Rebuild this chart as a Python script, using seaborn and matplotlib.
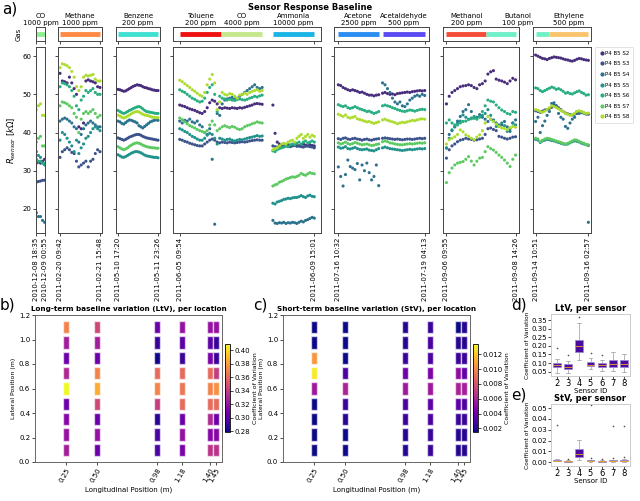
import numpy as np
import pandas as pd
import matplotlib
matplotlib.use('Agg')
import matplotlib.pyplot as plt
import matplotlib.dates as mdates
from matplotlib.lines import Line2D
import seaborn as sns

# %% dados
sensors = ['P4 B5 S2', 'P4 B5 S3', 'P4 B5 S4', 'P4 B5 S5', 'P4 B5 S6', 'P4 B5 S7', 'P4 B5 S8']

# inicio / fim de cada painel (ticks do eixo x)
panel_dates = [('2010-12-08 18:35', '2010-12-09 00:55'),
               ('2011-02-20 09:42', '2011-02-21 15:48'),
               ('2011-05-10 17:20', '2011-05-11 23:26'),
               ('2011-06-05 09:54', '2011-06-09 15:01'),
               ('2011-07-16 10:32', '2011-07-19 04:13'),
               ('2011-09-06 09:55', '2011-09-08 14:26'),
               ('2011-09-14 10:51', '2011-09-16 02:57')]

# gases: painel, nome, concentracao, cor, inicio, fim
gas_panel = [0, 1, 2, 3, 3, 3, 4, 4, 5, 5, 6, 6]
gas_name = ['CO', 'Methane', 'Benzene', 'Toluene', 'CO', 'Ammonia', 'Acetone', 'Acetaldehyde',
            'Methanol', 'Butanol', 'Butanol', 'Ethylene']
gas_conc = ['1000 ppm', '1000 ppm', '200 ppm', '200 ppm', '4000 ppm', '10000 ppm', '2500 ppm', '500 ppm',
            '200 ppm', '100 ppm', '100 ppm', '500 ppm']
gas_color = ['#90ee90', '#ff8a45', '#40e0d0', '#ee1111', '#c5e88c', '#1ab3e6', '#2b8cf2', '#5b4bf2',
             '#f54c38', '#70f0c8', '#70f0c8', '#f9c46b']
gas_start = ['2010-12-08 18:35', '2011-02-20 09:42', '2011-05-10 17:20', '2011-06-05 09:54',
             '2011-06-06 17:00', '2011-06-08 07:55', '2011-07-16 10:32', '2011-07-17 20:10',
             '2011-09-06 09:55', '2011-09-07 16:10', '2011-09-14 10:51', '2011-09-14 21:00']
gas_end = ['2010-12-09 00:55', '2011-02-21 15:48', '2011-05-11 23:26', '2011-06-06 17:00',
           '2011-06-07 23:50', '2011-06-09 15:01', '2011-07-17 17:15', '2011-07-19 04:13',
           '2011-09-07 16:10', '2011-09-08 14:26', '2011-09-14 21:00', '2011-09-16 02:57']

# resistencia (kOhm) por bloco de medicao, uma lista por sensor S2..S8
co_t = ('2010-12-08 18:35', '2010-12-09 00:55')
co_R = [[32.0, 32.3, 32.0, 32.5, 33.0],
        [27.0, 27.2, 27.3, 27.5, 27.5],
        [19.0, 18.0, 18.0, 17.0, 16.5],
        [35.0, 34.0, 33.5, 32.0, 31.5],
        [33.0, 32.5, 32.5, 32.0, 32.0],
        [37.5, 38.5, 39.0, 36.5, 36.5],
        [46.0, 47.0, 47.5, 44.5, 44.5]]

methane_t = ('2011-02-20 09:42', '2011-02-21 15:48')
methane_R = [[55.5, 53.5, 53.3, 53.0, 54.5, 53.0, 51.5, 50.0, 41.5, 41.0, 42.5, 53.5, 53.8, 53.5, 53.3, 53.0, 52.0, 51.8],
             [33.5, 35.0, 35.5, 36.0, 35.5, 34.8, 34.5, 32.5, 31.0, 31.5, 32.0, 32.5, 31.0, 32.5, 33.0, 34.5, 35.5, 35.0],
             [43.0, 43.5, 43.8, 43.5, 43.0, 42.5, 41.5, 41.0, 37.5, 39.5, 41.0, 42.0, 42.5, 43.0, 42.5, 42.0, 41.5, 41.5],
             [38.0, 40.0, 39.5, 38.5, 37.5, 36.5, 35.0, 38.0, 34.5, 36.0, 37.0, 38.5, 39.0, 40.0, 41.0, 41.5, 41.0, 40.5],
             [52.0, 53.0, 52.8, 52.5, 52.0, 51.0, 49.5, 47.0, 46.0, 48.5, 49.5, 51.0, 50.5, 51.0, 51.5, 50.5, 50.0, 50.0],
             [47.0, 48.0, 47.8, 47.5, 47.0, 46.5, 45.0, 44.0, 40.0, 43.5, 45.0, 45.5, 45.0, 45.5, 46.0, 45.0, 44.0, 44.5],
             [57.0, 58.0, 57.8, 57.5, 57.0, 56.0, 54.5, 52.0, 51.0, 52.0, 54.5, 55.0, 54.8, 55.0, 55.2, 54.0, 53.5, 53.5]]

benzene_t = ('2011-05-10 17:20', '2011-05-11 23:26')
benzene_R = [[51.3, 51.2, 51.0, 50.8, 50.9, 51.2, 51.5, 51.8, 52.1, 52.3, 52.5, 52.4, 52.3, 52.0, 51.8, 51.7, 51.5, 51.4, 51.2, 51.1, 51.0, 51.0],
             [38.6, 38.4, 38.2, 38.0, 38.2, 38.5, 38.8, 39.0, 39.2, 39.4, 39.5, 39.5, 39.3, 39.0, 38.8, 38.6, 38.5, 38.4, 38.3, 38.2, 38.1, 38.0],
             [43.0, 42.8, 42.4, 42.2, 42.6, 43.0, 43.3, 43.2, 43.0, 42.8, 42.5, 41.8, 41.5, 41.2, 41.6, 42.0, 42.4, 42.8, 43.0, 43.2, 43.3, 43.2],
             [34.2, 33.9, 33.6, 33.5, 33.7, 34.0, 34.3, 34.6, 34.8, 35.0, 35.0, 34.9, 34.7, 34.4, 34.1, 33.9, 33.8, 33.7, 33.6, 33.5, 33.5, 33.4],
             [45.8, 45.5, 45.2, 45.0, 45.2, 45.5, 45.8, 46.0, 46.3, 46.5, 46.7, 46.8, 46.6, 46.2, 45.8, 45.5, 45.4, 45.3, 45.2, 45.1, 45.0, 45.0],
             [36.3, 36.0, 35.7, 35.5, 35.7, 36.0, 36.4, 36.7, 37.0, 37.2, 37.3, 37.2, 37.0, 36.7, 36.5, 36.3, 36.2, 36.1, 36.0, 36.0, 35.9, 35.9],
             [44.6, 44.3, 44.0, 43.8, 44.0, 44.3, 44.6, 44.9, 45.2, 45.4, 45.5, 45.4, 45.1, 44.8, 44.6, 44.5, 44.4, 44.2, 44.0, 44.0, 43.9, 43.9]]

toluene_co_t = ('2011-06-05 09:54', '2011-06-07 23:50')
toluene_co_R = [[47.2, 47.0, 46.8, 46.5, 46.2, 46.0, 45.8, 45.5, 45.2, 45.0, 45.5, 46.5, 47.8, 48.5, 48.2, 47.5, 46.5,
                 46.3, 46.5, 46.4, 46.3, 46.5, 46.4, 46.3, 46.5, 46.4, 46.6, 46.8, 47.0, 47.2, 47.5, 47.6, 47.5, 47.4],
                [38.2, 38.0, 37.7, 37.5, 37.2, 37.0, 36.8, 36.6, 36.5, 36.5, 37.0, 37.5, 38.0, 38.3, 38.0, 37.5, 37.3,
                 37.5, 37.4, 37.3, 37.5, 37.4, 37.3, 37.4, 37.5, 37.6, 37.5, 37.6, 37.8, 37.9, 38.0, 38.1, 38.0, 38.0],
                [43.0, 42.5, 43.2, 43.0, 43.5, 42.8, 42.5, 43.0, 42.0, 41.5, 40.0, 39.5, 41.0, 33.0, 16.0, 45.0, 44.5,
                 47.5, 48.5, 48.8, 49.0, 49.2, 48.8, 49.0, 49.5, 50.0, 50.5, 51.0, 51.5, 52.0, 52.5, 51.8, 51.5, 51.8],
                [41.0, 40.7, 40.3, 40.0, 39.5, 39.0, 38.7, 38.3, 38.0, 38.0, 38.5, 39.3, 39.8, 39.5, 38.5, 37.0, 38.5,
                 38.3, 38.0, 38.2, 38.3, 38.0, 37.8, 38.0, 38.2, 38.1, 38.3, 38.5, 38.7, 38.8, 39.0, 39.2, 39.0, 39.1],
                [51.2, 50.8, 50.5, 50.0, 49.5, 49.0, 48.7, 48.3, 48.0, 48.2, 49.0, 50.5, 51.8, 52.5, 50.0, 45.5, 49.5,
                 49.0, 48.8, 48.5, 48.7, 48.5, 48.4, 48.6, 48.8, 48.6, 48.5, 48.7, 49.0, 49.2, 49.5, 49.3, 49.6, 49.8],
                [43.8, 43.4, 42.8, 42.3, 41.8, 41.5, 41.2, 40.8, 40.5, 40.3, 40.0, 40.5, 42.0, 43.0, 42.0, 40.5, 41.0,
                 41.5, 41.8, 41.5, 41.3, 41.6, 41.4, 41.0, 40.8, 41.0, 41.5, 41.8, 42.0, 42.3, 42.5, 42.8, 42.6, 42.5],
                [53.7, 53.3, 52.8, 52.3, 51.8, 51.2, 50.8, 50.3, 49.8, 49.5, 50.5, 52.5, 54.0, 55.2, 53.0, 46.0, 48.0,
                 50.5, 50.0, 49.8, 50.2, 50.0, 49.5, 49.0, 49.8, 50.0, 50.3, 50.0, 50.5, 50.8, 51.0, 51.2, 50.8, 51.0]]

ammonia_t = ('2011-06-08 07:55', '2011-06-09 15:01')
ammonia_R = [[47.2, 39.8, 37.5, 37.0, 36.8, 36.5, 36.6, 36.8, 36.5, 36.7, 36.9, 36.6, 36.5, 36.8, 37.0, 36.7, 36.5, 36.8, 36.6, 36.5],
             [36.5, 36.3, 36.2, 36.0, 36.2, 36.3, 36.5, 36.4, 36.3, 36.5, 36.6, 36.4, 36.5, 36.3, 36.2, 36.4, 36.5, 36.3, 36.2, 36.0],
             [17.0, 16.3, 16.2, 16.4, 16.3, 16.5, 16.2, 16.4, 16.3, 16.5, 16.4, 16.2, 16.5, 16.8, 16.6, 17.0, 17.2, 17.5, 17.8, 17.6],
             [21.5, 21.3, 21.8, 22.0, 22.2, 22.5, 22.6, 22.8, 22.7, 22.9, 23.0, 23.0, 23.2, 23.5, 23.2, 23.0, 23.4, 23.6, 23.3, 23.2],
             [35.2, 35.0, 35.5, 35.8, 36.0, 36.2, 36.5, 36.3, 36.8, 37.0, 36.8, 37.2, 37.5, 37.0, 37.5, 37.8, 37.3, 37.5, 37.8, 37.5],
             [26.0, 26.3, 26.5, 27.0, 27.2, 27.5, 27.8, 28.0, 28.2, 28.4, 28.3, 28.5, 28.8, 29.3, 29.0, 28.8, 29.2, 29.5, 29.3, 29.2],
             [35.5, 35.8, 36.0, 36.5, 37.0, 37.2, 37.0, 37.5, 37.8, 38.0, 37.5, 38.5, 39.0, 39.5, 38.5, 39.0, 39.5, 38.8, 39.3, 39.0]]

acetone_t = ('2011-07-16 10:32', '2011-07-17 17:15')
acetone_R = [[52.5, 52.3, 51.8, 51.5, 51.2, 51.0, 51.2, 51.0, 50.8, 50.5, 50.6, 50.3, 50.0, 49.8, 49.8, 49.6, 49.8, 49.9],
             [38.4, 38.2, 38.5, 38.6, 38.3, 38.2, 38.4, 38.5, 38.3, 38.2, 38.0, 38.2, 38.3, 38.1, 38.0, 38.2, 38.3, 38.4],
             [31.0, 28.5, 26.0, 29.0, 32.8, 31.1, 30.7, 30.3, 31.9, 27.6, 31.5, 30.0, 32.0, 29.5, 27.6, 28.5, 31.5, 26.1],
             [36.2, 35.9, 36.0, 36.3, 35.8, 35.7, 35.9, 36.1, 35.8, 35.6, 35.5, 35.6, 35.7, 35.4, 35.3, 35.2, 35.5, 35.8],
             [47.3, 47.0, 46.8, 47.0, 46.5, 46.3, 46.5, 46.8, 46.5, 46.2, 46.0, 45.8, 45.5, 45.6, 45.3, 45.0, 45.2, 45.5],
             [37.3, 37.0, 37.2, 37.5, 37.1, 36.9, 37.1, 37.4, 37.2, 37.0, 36.8, 36.9, 37.0, 36.8, 36.6, 36.7, 36.9, 37.0],
             [44.8, 44.5, 44.2, 44.6, 44.0, 43.8, 44.0, 44.2, 43.6, 43.4, 43.2, 43.0, 42.8, 42.9, 42.6, 42.4, 42.6, 42.8]]

acetaldehyde_t = ('2011-07-17 20:10', '2011-07-19 04:13')
acetaldehyde_R = [[50.3, 50.5, 50.2, 50.0, 50.1, 49.9, 50.2, 50.3, 50.4, 50.5, 50.6, 50.5, 50.7, 50.8, 50.9, 51.0, 50.9, 51.0],
                  [38.5, 38.6, 38.5, 38.4, 38.3, 38.2, 38.3, 38.2, 38.1, 38.2, 38.3, 38.3, 38.2, 38.3, 38.4, 38.5, 38.4, 38.5],
                  [53.0, 52.5, 51.5, 50.5, 49.0, 48.0, 47.5, 48.0, 47.0, 46.8, 47.5, 48.5, 49.0, 49.5, 49.8, 49.5, 50.0, 49.7],
                  [36.0, 36.2, 36.0, 35.8, 35.7, 35.6, 35.5, 35.4, 35.3, 35.4, 35.5, 35.6, 35.5, 35.6, 35.7, 35.8, 35.7, 35.8],
                  [47.0, 47.2, 47.0, 46.8, 46.5, 46.3, 46.0, 45.8, 45.6, 45.5, 45.7, 45.9, 45.8, 45.6, 45.8, 46.0, 46.1, 46.0],
                  [37.6, 37.8, 37.6, 37.3, 37.2, 37.0, 36.9, 36.8, 36.8, 36.9, 37.0, 37.1, 37.0, 37.1, 37.2, 37.3, 37.2, 37.3],
                  [43.3, 43.5, 43.2, 43.0, 42.8, 42.6, 42.3, 42.5, 42.7, 42.6, 42.8, 43.0, 43.2, 43.1, 43.3, 43.5, 43.6, 43.5]]

methanol_butanol_t = ('2011-09-06 09:55', '2011-09-08 14:26')
methanol_butanol_R = [[47.5, 49.5, 50.5, 51.0, 51.5, 52.0, 52.2, 52.3, 52.5, 52.3, 51.8, 51.5, 52.5, 52.8, 53.5, 55.3, 55.9, 56.2, 54.0, 53.7, 53.5, 53.2, 52.8, 53.5, 54.2, 53.8],
                      [33.3, 35.5, 36.5, 37.0, 37.6, 38.0, 38.2, 38.5, 38.3, 38.2, 38.0, 38.1, 38.3, 38.5, 39.5, 41.0, 41.2, 40.8, 40.5, 39.0, 38.8, 38.5, 38.3, 38.5, 38.8, 38.9],
                      [36.0, 39.5, 40.5, 41.5, 43.0, 44.2, 45.5, 46.0, 47.3, 45.5, 43.8, 44.0, 44.7, 44.0, 43.5, 42.9, 43.5, 43.3, 42.5, 41.6, 42.0, 42.9, 41.5, 40.3, 42.5, 43.3],
                      [35.9, 38.5, 40.7, 41.5, 42.5, 43.0, 44.6, 44.0, 43.5, 43.8, 44.2, 43.9, 44.2, 44.5, 45.0, 46.0, 44.5, 43.0, 41.6, 42.0, 42.5, 41.8, 40.3, 41.0, 42.5, 42.0],
                      [42.5, 43.3, 42.5, 42.0, 42.0, 42.5, 42.9, 43.0, 43.4, 43.6, 43.8, 43.5, 44.0, 45.5, 47.0, 48.5, 48.2, 48.0, 47.2, 46.5, 45.9, 45.5, 45.0, 44.8, 45.5, 45.3],
                      [26.9, 29.5, 30.7, 31.5, 32.0, 32.2, 32.4, 33.0, 33.7, 32.5, 31.5, 32.5, 33.3, 33.5, 35.0, 36.3, 35.8, 35.4, 34.8, 34.1, 33.5, 32.8, 32.0, 31.1, 33.0, 34.1],
                      [37.0, 38.1, 38.5, 38.9, 39.5, 40.7, 40.2, 39.4, 39.0, 38.5, 38.1, 38.8, 39.4, 40.5, 42.5, 44.2, 43.5, 42.9, 42.2, 41.6, 41.2, 41.1, 40.8, 41.3, 41.6, 41.4]]

butanol_ethylene_t = ('2011-09-14 10:51', '2011-09-16 02:57')
butanol_ethylene_R = [[60.3, 60.0, 59.7, 59.4, 59.3, 59.1, 59.4, 59.6, 59.8, 59.7, 59.6, 59.5, 59.3, 59.1, 59.0, 58.8, 58.7, 58.9, 59.2, 59.4, 59.3, 59.1, 59.0, 58.9],
                      [45.7, 45.5, 45.3, 45.6, 45.9, 46.0, 46.3, 46.6, 47.2, 47.0, 46.5, 46.0, 45.5, 45.1, 44.9, 44.7, 44.6, 44.8, 45.0, 45.3, 45.4, 45.1, 45.0, 44.8],
                      [42.9, 44.0, 40.0, 41.8, 43.0, 44.5, 45.5, 47.6, 47.8, 47.0, 45.0, 44.0, 43.5, 41.6, 41.1, 42.5, 43.5, 44.0, 45.5, 45.0, 45.2, 45.1, 44.8, 16.5],
                      [38.2, 38.0, 37.4, 37.8, 38.0, 38.2, 38.1, 37.9, 37.8, 37.6, 37.4, 37.2, 37.0, 36.9, 37.0, 37.3, 37.6, 37.8, 37.7, 37.5, 37.2, 37.0, 36.8, 36.6],
                      [51.7, 51.5, 51.0, 50.7, 51.0, 51.3, 51.6, 51.9, 51.7, 51.3, 51.5, 51.2, 50.8, 50.3, 50.5, 50.2, 50.1, 50.4, 50.7, 50.9, 50.5, 50.2, 49.8, 49.9],
                      [38.5, 38.3, 37.6, 38.0, 38.3, 38.5, 38.4, 38.2, 38.0, 37.8, 37.6, 37.4, 37.2, 37.0, 37.2, 37.5, 37.8, 38.1, 38.0, 37.7, 37.4, 37.2, 36.9, 36.8],
                      [46.0, 45.8, 45.5, 45.3, 45.6, 46.0, 46.5, 47.0, 46.8, 46.5, 46.2, 45.8, 45.5, 45.0, 44.8, 44.5, 44.7, 45.0, 45.5, 45.7, 45.5, 45.2, 45.0, 45.1]]

blocks = [(0, co_t, co_R), (1, methane_t, methane_R), (2, benzene_t, benzene_R),
          (3, toluene_co_t, toluene_co_R), (3, ammonia_t, ammonia_R),
          (4, acetone_t, acetone_R), (4, acetaldehyde_t, acetaldehyde_R),
          (5, methanol_butanol_t, methanol_butanol_R), (6, butanol_ethylene_t, butanol_ethylene_R)]

# variacao por localizacao (linhas de cima para baixo)
long_pos = [0.25, 0.50, 0.98, 1.18, 1.40, 1.45]
lat_pos = [1.1, 0.975, 0.85, 0.725, 0.6, 0.475, 0.35, 0.225, 0.1]
ltv_grid = [[0.370, 0.345, 0.305, 0.320, 0.320, 0.320],
            [0.325, 0.325, 0.290, 0.300, 0.300, 0.290],
            [0.305, 0.305, 0.280, 0.290, 0.310, 0.290],
            [0.330, 0.370, 0.360, 0.360, 0.360, 0.340],
            [0.410, 0.385, 0.370, 0.365, 0.370, 0.375],
            [0.305, 0.345, 0.340, 0.360, 0.360, 0.360],
            [0.315, 0.305, 0.285, 0.305, 0.330, 0.305],
            [0.320, 0.320, 0.295, 0.320, 0.315, 0.315],
            [0.325, 0.305, 0.295, 0.310, 0.335, 0.335]]
stv_grid = [[0.0015, 0.0015, 0.0020, 0.0025, 0.0015, 0.0020],
            [0.0015, 0.0015, 0.0020, 0.0030, 0.0020, 0.0020],
            [0.0105, 0.0015, 0.0025, 0.0030, 0.0025, 0.0025],
            [0.0130, 0.0030, 0.0040, 0.0045, 0.0050, 0.0035],
            [0.0055, 0.0060, 0.0055, 0.0055, 0.0060, 0.0058],
            [0.0015, 0.0025, 0.0030, 0.0035, 0.0035, 0.0030],
            [0.0015, 0.0020, 0.0025, 0.0030, 0.0025, 0.0025],
            [0.0015, 0.0015, 0.0020, 0.0025, 0.0020, 0.0020],
            [0.0015, 0.0015, 0.0020, 0.0025, 0.0020, 0.0020]]

# variacao por sensor (amostras)
sensor_ids = [2, 3, 4, 5, 6, 7, 8]
ltv_sensor = [[0.04, 0.06, 0.072, 0.078, 0.082, 0.085, 0.088, 0.095, 0.1, 0.11, 0.125, 0.19],
              [0.04, 0.055, 0.063, 0.068, 0.074, 0.078, 0.08, 0.086, 0.092, 0.1, 0.11, 0.145],
              [0.12, 0.14, 0.152, 0.162, 0.178, 0.192, 0.2, 0.212, 0.225, 0.235, 0.27, 0.33, 0.37],
              [0.065, 0.072, 0.078, 0.082, 0.086, 0.09, 0.093, 0.097, 0.102, 0.108, 0.13, 0.16],
              [0.055, 0.065, 0.072, 0.077, 0.082, 0.086, 0.09, 0.094, 0.099, 0.105, 0.12, 0.145],
              [0.055, 0.065, 0.072, 0.078, 0.085, 0.092, 0.098, 0.105, 0.115, 0.125, 0.14, 0.165],
              [0.05, 0.062, 0.072, 0.078, 0.086, 0.093, 0.098, 0.105, 0.114, 0.122, 0.135, 0.155]]
stv_sensor = [[0.0008, 0.001, 0.0012, 0.0013, 0.0014, 0.0015, 0.0016, 0.0018, 0.002, 0.0022, 0.0025, 0.0035, 0.034],
              [0.0003, 0.0005, 0.0006, 0.0007, 0.0008, 0.0009, 0.001, 0.0011, 0.0012, 0.0014, 0.0017, 0.002, 0.003],
              [0.002, 0.003, 0.004, 0.005, 0.0058, 0.0065, 0.007, 0.0078, 0.009, 0.0105, 0.013, 0.016, 0.02, 0.021],
              [0.0005, 0.0008, 0.001, 0.0011, 0.0012, 0.0013, 0.0015, 0.0016, 0.0018, 0.002, 0.0025, 0.004, 0.053],
              [0.0003, 0.0005, 0.0006, 0.0007, 0.0008, 0.0009, 0.001, 0.0011, 0.0012, 0.0014, 0.0018, 0.0022, 0.003],
              [0.0005, 0.0008, 0.001, 0.0011, 0.0012, 0.0013, 0.0015, 0.0016, 0.0018, 0.002, 0.0025, 0.004, 0.033],
              [0.0005, 0.0008, 0.001, 0.0011, 0.0012, 0.0013, 0.0015, 0.0016, 0.0018, 0.002, 0.003, 0.005, 0.033]]

# %% figura
W, H = 640, 501
fig = plt.figure(figsize=(W / 100, H / 100), dpi=100)
FS = 5


def px_axes(x0, y0, x1, y1):
    return fig.add_axes([x0 / W, 1 - y1 / H, (x1 - x0) / W, (y1 - y0) / H])


def style_spines(ax, color='#444444', lw=0.7):
    for sp in ax.spines.values():
        sp.set_color(color)
        sp.set_linewidth(lw)


pal = sns.color_palette('viridis', len(sensors))
panel_px = [(36, 45), (58, 102), (116, 160), (173, 321), (334, 429), (443, 519), (533, 591)]

main_axes, strip_axes = [], []
for i, (x0, x1) in enumerate(panel_px):
    t0, t1 = [mdates.date2num(pd.Timestamp(d)) for d in panel_dates[i]]
    span = t1 - t0
    lim = (t0 - 0.05 * span, t1 + 0.05 * span)

    ax = px_axes(x0, 47, x1, 233)
    frames = []
    for p, (b0, b1), R in blocks:
        if p != i:
            continue
        for s, vals in zip(sensors, R):
            frames.append(pd.DataFrame({'time': pd.date_range(b0, b1, periods=len(vals)),
                                        'R': vals, 'sensor': s}))
    df = pd.concat(frames, ignore_index=True)
    sns.scatterplot(data=df, x='time', y='R', hue='sensor', hue_order=sensors, palette=pal,
                    s=5, linewidth=0, legend=False, ax=ax)
    ax.set_xlim(lim)
    ax.set_ylim(13.7, 62.4)
    ax.set_yticks([20, 30, 40, 50, 60])
    ax.set_xticks([t0, t1])
    ax.set_xticklabels(list(panel_dates[i]), rotation=90, fontsize=4.5)
    ax.tick_params(length=2, width=0.5, labelsize=FS, pad=1.5)
    ax.set_xlabel('')
    if i == 0:
        ax.set_ylabel(r'$R_{sensor}\ [k\Omega]$', fontsize=6, labelpad=3)
    else:
        ax.set_ylabel('')
        ax.tick_params(labelleft=False)
    style_spines(ax)
    main_axes.append(ax)

    sax = px_axes(x0, 27, x1, 41)
    sax.set_xlim(lim)
    sax.set_ylim(-1, 1)
    sax.set_xticks([t0, t1])
    sax.set_yticks([])
    sax.tick_params(labelbottom=False, length=2, width=0.5)
    style_spines(sax)
    strip_axes.append(sax)

# barras dos gases
for k in range(len(gas_name)):
    sax = strip_axes[gas_panel[k]]
    a = mdates.date2num(pd.Timestamp(gas_start[k]))
    b = mdates.date2num(pd.Timestamp(gas_end[k]))
    sax.hlines(0, a, b, color=gas_color[k], lw=3.5)

# rotulos dos gases no meio de cada gas (butanol atravessa dois paineis)
done = set()
for k in range(len(gas_name)):
    key = (gas_name[k], gas_conc[k])
    if key in done:
        continue
    done.add(key)
    idx = [j for j in range(len(gas_name)) if (gas_name[j], gas_conc[j]) == key
           and (j == k or gas_panel[j] == gas_panel[k] + 1)]
    xa = strip_axes[gas_panel[idx[0]]].transData.transform(
        (mdates.date2num(pd.Timestamp(gas_start[idx[0]])), 0))[0]
    xb = strip_axes[gas_panel[idx[-1]]].transData.transform(
        (mdates.date2num(pd.Timestamp(gas_end[idx[-1]])), 0))[0]
    fig.text((xa + xb) / 2 / W, 1 - 25.5 / H, f'{gas_name[k]}\n{gas_conc[k]}',
             ha='center', va='bottom', fontsize=FS, linespacing=1.15)

fig.text(19 / W, 1 - 34 / H, 'Gas', rotation=90, ha='center', va='center', fontsize=FS)
fig.text(310 / W, 1 - 8 / H, 'Sensor Response Baseline', ha='center', va='center',
         fontsize=6, fontweight='bold')
fig.text(2 / W, 1 - 2 / H, 'a)', ha='left', va='top', fontsize=11)

handles = [Line2D([], [], marker='o', ls='', color=c, markersize=2) for c in pal]
leg = fig.legend(handles, sensors, loc='upper left', bbox_to_anchor=(595 / W, 1 - 47 / H),
                 fontsize=4, handletextpad=0.1, labelspacing=1.0, borderpad=0.7,
                 handlelength=1.0, borderaxespad=0, frameon=True)
leg.get_frame().set_linewidth(0.5)
leg.get_frame().set_edgecolor('#cccccc')

# %% b) e c) variacao por localizacao
cmap = plt.get_cmap('plasma')
loc_specs = [((35, 315, 222, 462), (225, 344, 230, 432), ltv_grid, (0.279, 0.409),
              [0.28, 0.30, 0.32, 0.34, 0.36, 0.38, 0.40], '%.2f',
              'Long-term baseline variation (LtV), per location', 'b)', 0),
             ((283, 315, 470, 462), (473, 344, 478, 432), stv_grid, (0.0015, 0.0134),
              [0.002, 0.004, 0.006, 0.008, 0.010, 0.012], '%.3f',
              'Short-term baseline variation (StV), per location', 'c)', 253)]
for box, cbox, grid, (vmin, vmax), cticks, cfmt, title, tag, tagx in loc_specs:
    ax = px_axes(*box)
    norm = matplotlib.colors.Normalize(vmin, vmax)
    vals = np.array(grid)
    for j, x in enumerate(long_pos):
        ax.bar([x] * len(lat_pos), 0.1, width=0.048, bottom=np.array(lat_pos) - 0.05,
               color=cmap(norm(vals[:, j])), edgecolor=(1, 1, 1, 0.6), linewidth=1.0)
    ax.set_xlim(0, 1.5)
    ax.set_ylim(0, 1.2)
    ax.set_xticks(long_pos)
    ax.set_xticklabels([f'{v:.2f}' for v in long_pos], rotation=60, ha='right',
                       rotation_mode='anchor', fontsize=FS)
    ax.set_yticks(np.arange(0, 1.21, 0.2))
    ax.set_yticklabels([f'{v:.1f}' for v in np.arange(0, 1.21, 0.2)], fontsize=FS)
    ax.tick_params(length=2, width=0.5, pad=1.5)
    ax.set_xlabel('Longitudinal Position (m)', fontsize=FS, labelpad=2)
    ax.set_ylabel('Lateral Position (m)', fontsize=4.5, labelpad=2)
    ax.set_title(title, fontsize=5.2, fontweight='bold', pad=3)
    style_spines(ax, '#666666')
    cax = px_axes(*cbox)
    cb = fig.colorbar(matplotlib.cm.ScalarMappable(norm=norm, cmap=cmap), cax=cax)
    cb.set_ticks(cticks)
    cb.ax.yaxis.set_major_formatter(matplotlib.ticker.FormatStrFormatter(cfmt))
    cb.ax.tick_params(labelsize=FS, length=2, width=0.5, pad=1)
    cb.outline.set_linewidth(0.6)
    cb.set_label('Coefficient of Variation', fontsize=4.5, labelpad=2)
    fig.text(tagx / W, 1 - 298 / H, tag, ha='left', va='top', fontsize=11)

# %% d) e e) variacao por sensor
box_specs = [((551, 314, 630, 376), ltv_sensor, (0.025, 0.385), np.arange(0.05, 0.36, 0.05),
              'LtV, per sensor', 'd)', 298),
             ((551, 404, 630, 466), stv_sensor, (-0.0034, 0.0537), np.arange(0, 0.051, 0.01),
              'StV, per sensor', 'e)', 388)]
for box, samples, ylim, yticks, title, tag, tagy in box_specs:
    ax = px_axes(*box)
    df = pd.DataFrame([(sid, v) for sid, vals in zip(sensor_ids, samples) for v in vals],
                      columns=['Sensor ID', 'cv'])
    ax.grid(axis='x', color='#dddddd', lw=0.8, zorder=0)
    ax.set_axisbelow(True)
    sns.boxplot(data=df, x='Sensor ID', y='cv', ax=ax, color='#4a0c9e', saturation=1,
                width=0.7, linewidth=0.5,
                boxprops=dict(facecolor='#4a0c9e', edgecolor='#9c86d8'),
                medianprops=dict(color='#f5a623', linewidth=0.6),
                whiskerprops=dict(color='#999999'), capprops=dict(color='#999999'),
                flierprops=dict(marker='o', markersize=1.2, markerfacecolor='#555555',
                                markeredgecolor='none'))
    ax.set_ylim(ylim)
    ax.set_yticks(yticks)
    ax.set_yticklabels([f'{v:.2f}' for v in yticks], fontsize=FS)
    ax.tick_params(axis='x', labelsize=6, length=2, width=0.5, pad=0.5)
    ax.tick_params(axis='y', length=2, width=0.5, pad=1)
    ax.set_xlabel('Sensor ID', fontsize=FS, labelpad=0)
    ax.set_ylabel('Coefficient of Variation', fontsize=4.2, labelpad=1)
    ax.set_title(title, fontsize=6, fontweight='bold', pad=2.5)
    style_spines(ax, '#cccccc')
    fig.text(511 / W, 1 - tagy / H, tag, ha='left', va='top', fontsize=11)

fig.savefig('out.png', dpi=100)
